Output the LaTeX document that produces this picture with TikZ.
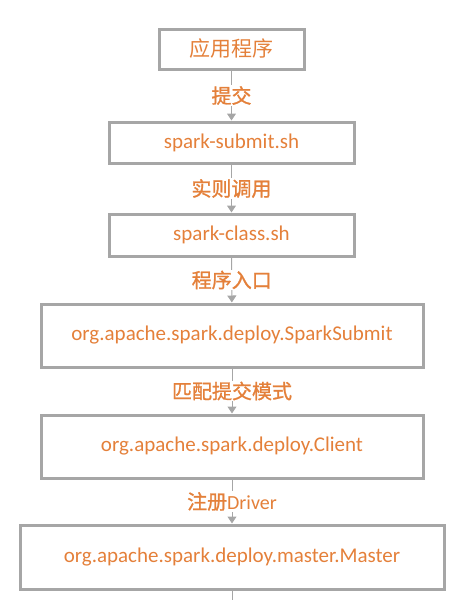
\documentclass[tikz,border=0pt]{standalone}
\usepackage{fontspec}
\setmainfont{Carlito}
\newfontfamily\cjk{Noto Sans CJK SC}
\newfontfamily\cjkmid[FakeBold=1.2]{Noto Sans CJK SC}
\usetikzlibrary{arrows.meta}
\definecolor{boxgray}{RGB}{166,166,166}
\definecolor{txtorange}{RGB}{228,128,58}
\tikzset{stage/.style={draw=boxgray, line width=3pt, text=txtorange, font=\fontsize{21}{23}\selectfont, inner sep=0pt},
  flow/.style={draw=boxgray, line width=1pt, -{Triangle[width=9pt,length=7pt]}},
  lbl/.style={fill=white, text=txtorange, font=\fontsize{20}{22}\selectfont, inner sep=1pt}}

\begin{document}
\begin{tikzpicture}[x=1pt,y=-1pt]
  \useasboundingbox (0,0) rectangle (475,600);
  % Les étapes
  \node[stage, minimum width=145pt, minimum height=40pt] (app) at (231.5,49) {\cjk 应用程序};
  \node[stage, minimum width=245pt, minimum height=41pt] (submit) at (231.5,142.5) {spark-submit.sh};
  \node[stage, minimum width=245pt, minimum height=42pt] (class) at (231.5,235) {spark-class.sh};
  \node[stage, minimum width=382pt, minimum height=63pt] (sparksubmit) at (232,335.5) {org.apache.spark.deploy.SparkSubmit};
  \node[stage, minimum width=382pt, minimum height=63pt] (client) at (232,446.5) {org.apache.spark.deploy.Client};
  \node[stage, minimum width=424pt, minimum height=64pt] (master) at (232,557) {org.apache.spark.deploy.master.Master};
  \coordinate (out) at (232,600);

  % Les flèches
  \draw[flow] (app) -- node[lbl] {\cjkmid 提交} (submit);
  \draw[flow] (submit) -- node[lbl] {\cjkmid 实则调用} (class);
  \draw[flow] (class) -- node[lbl] {\cjkmid 程序入口} (sparksubmit);
  \draw[flow] (sparksubmit) -- node[lbl] {\cjkmid 匹配提交模式} (client);
  \draw[flow] (client) -- node[lbl] {{\cjkmid 注册}Driver} (master);
  \draw[draw=boxgray, line width=1pt] (master) -- (out);
\end{tikzpicture}
\end{document}
